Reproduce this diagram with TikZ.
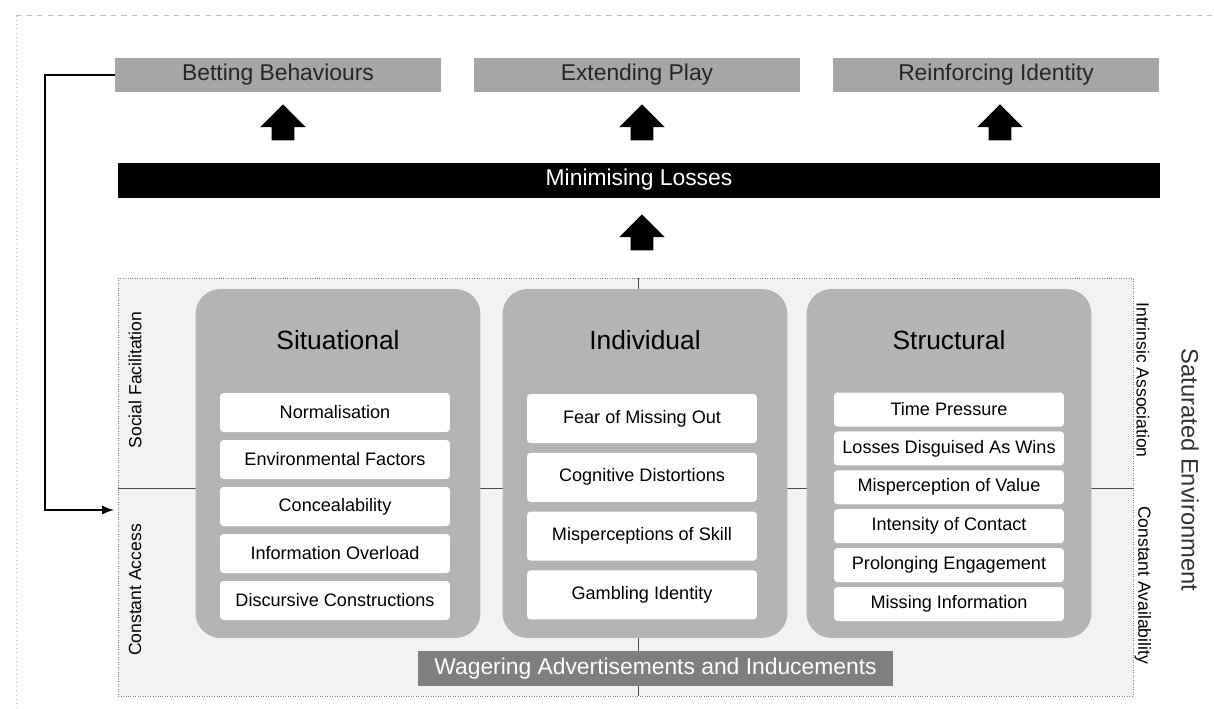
\documentclass[tikz,border=0pt]{standalone}
\usepackage{fontspec}
\setmainfont{Liberation Sans}
\usepackage{xcolor}
\usepackage{tikz}
\usetikzlibrary{shapes.arrows}

\definecolor{topgray}{HTML}{A6A6A6}
\definecolor{boxgray}{HTML}{B4B4B4}
\definecolor{envgray}{HTML}{F2F2F2}
\definecolor{adgray}{HTML}{7F7F7F}

\begin{document}
\begin{tikzpicture}[x=0.02cm, y=-0.02cm,
        outcome/.style={fill=topgray, text=black!85, minimum width=6.52cm, minimum height=0.68cm, font=\fontsize{13}{15}\selectfont},
        upblock/.style={single arrow, fill=black, shape border rotate=90, minimum height=0.72cm, inner sep=0.22cm, single arrow head extend=0.23cm},
        factor/.style={fill=boxgray, rounded corners=0.5cm, minimum width=5.7cm, minimum height=6.98cm},
        factortitle/.style={font=\fontsize{15}{18}\selectfont},
        item/.style={fill=white, rounded corners=2pt, minimum width=4.6cm, font=\fontsize{10.3}{12}\selectfont},
        sidelabel/.style={font=\fontsize{10}{12}\selectfont}]
            \useasboundingbox (0,0) rectangle (1214,708);
            \draw[gray!50, dotted] (16,708) -- (16,15);
            \draw[gray!50, dashed] (16,15) -- (1214,15);
            \node[outcome] (bet) at (278,75) {Betting Behaviours};
            \node[outcome] (ext) at (637,75) {Extending Play};
            \node[outcome] (rei) at (996,75) {Reinforcing Identity};
            \node[upblock] (up1) at (283,128) {};
            \node[upblock] (up2) at (642,128) {};
            \node[upblock] (up3) at (1000,128) {};
            \node[fill=black, text=white, minimum width=20.84cm, minimum height=0.7cm, font=\fontsize{13}{15}\selectfont] (min) at (639,180) {Minimising Losses};
            \node[upblock] (up4) at (642,238) {};
            \fill[envgray] (118,278) rectangle (1133,696);
            \draw[gray, densely dotted] (118,278) rectangle (1133,696);
            \draw[gray!60!black, thin] (118,488) -- (1133,488);
            \draw[gray!60!black, thin] (638,278) -- (638,696);
            \node[factor] (sit) at (338,463.5) {};
            \node[factor] (ind) at (645,463.5) {};
            \node[factor] (str) at (949,463.5) {};
            \node[factortitle] (sitt) at (338,340) {Situational};
            \node[factortitle] (indt) at (645,340) {Individual};
            \node[factortitle] (strt) at (949,340) {Structural};
            \foreach \t [count=\i] in {Normalisation, Environmental Factors, Concealability, Information Overload, Discursive Constructions}
                \node[item, minimum height=0.78cm] (sit\i) at (335, {365.5+47*\i}) {\t};
            \foreach \t [count=\i] in {Fear of Missing Out, Cognitive Distortions, Misperceptions of Skill, Gambling Identity}
                \node[item, minimum height=0.98cm] (ind\i) at (642, {359.7+58.8*\i}) {\t};
            \foreach \t [count=\i] in {Time Pressure, Losses Disguised As Wins, Misperception of Value, Intensity of Contact, Prolonging Engagement, Missing Information}
                \node[item, minimum height=0.68cm] (str\i) at (949, {370.6+38.9*\i}) {\t};
            \node[fill=adgray, text=white, minimum width=9.5cm, minimum height=0.7cm, font=\fontsize{13}{15}\selectfont] (ads) at (655.5,668.5) {Wagering Advertisements and Inducements};
            \node[sidelabel, rotate=90] (soc) at (135,380) {Social Facilitation};
            \node[sidelabel, rotate=90] (acc) at (135,590) {Constant Access};
            \node[sidelabel, rotate=-90] (intr) at (1143,380) {Intrinsic Association};
            \node[sidelabel, rotate=-90] (avail) at (1143,585) {Constant Availability};
            \node[rotate=-90, text=black!80, font=\fontsize{13.5}{16}\selectfont] (sat) at (1190,470) {Saturated Environment};
            \coordinate (accin) at (114,510);
            \draw[line width=1.3pt, -latex] (bet.west) -- ++(-70,0) |- (accin);
        \end{tikzpicture}
\end{document}
